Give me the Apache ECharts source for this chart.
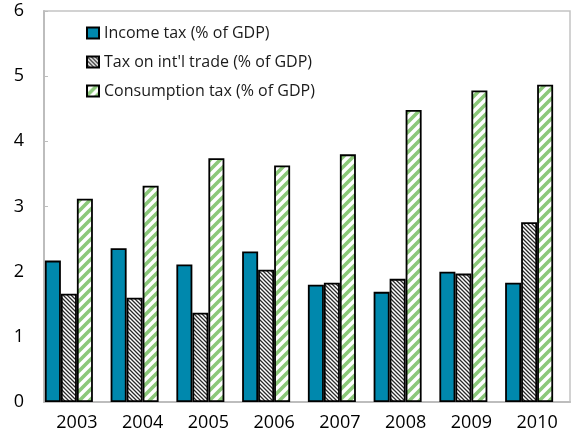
<!DOCTYPE html>
<html>
<head>
<meta charset="utf-8">
<script src="https://cdn.jsdelivr.net/npm/echarts@6/dist/echarts.min.js"></script>
<style>
html,body{margin:0;padding:0;background:#fff;}
#chart{width:571px;height:445px;}
</style>
</head>
<body>
<div id="chart"></div>
<script>
var categories = ['2003','2004','2005','2006','2007','2008','2009','2010'];
var incomeTax = [2.17, 2.36, 2.11, 2.31, 1.80, 1.69, 2.00, 1.83];
var tradeTax = [1.66, 1.60, 1.37, 2.03, 1.83, 1.89, 1.97, 2.76];
var consumptionTax = [3.12, 3.32, 3.74, 3.63, 3.80, 4.48, 4.78, 4.87];
var seriesNames = ['Income tax (% of GDP)', "Tax on int'l trade (% of GDP)", 'Consumption tax (% of GDP)'];
var yTicks = [0, 1, 2, 3, 4, 5, 6];

function makePattern(size, dir, lineColor, lineWidth) {
  var c = document.createElement('canvas');
  c.width = size; c.height = size;
  var ctx = c.getContext('2d');
  ctx.fillStyle = '#ffffff';
  ctx.fillRect(0, 0, size, size);
  ctx.strokeStyle = lineColor;
  ctx.lineWidth = lineWidth;
  ctx.beginPath();
  if (dir === 'back') {
    ctx.moveTo(-size, 0); ctx.lineTo(size, 2 * size);
    ctx.moveTo(0, 0); ctx.lineTo(size, size);
    ctx.moveTo(0, -size); ctx.lineTo(2 * size, size);
  } else {
    ctx.moveTo(0, size); ctx.lineTo(size, 0);
    ctx.moveTo(-size, size); ctx.lineTo(size, -size);
    ctx.moveTo(0, 2 * size); ctx.lineTo(2 * size, 0);
  }
  ctx.stroke();
  return c;
}

var hatch = makePattern(4, 'back', '#2a2a2a', 1.3);
var stripes = makePattern(10, 'fwd', '#8cc87a', 3.6);

var chart = echarts.init(document.getElementById('chart'), null, {renderer: 'canvas'});
var font = "'Open Sans', 'Noto Sans', sans-serif";

chart.setOption({
  animation: false,
  backgroundColor: '#ffffff',
  textStyle: {fontFamily: font},
  grid: {left: 44, right: 1, top: 11, bottom: 43, show: true, borderColor: '#c3c3c3', borderWidth: 1.5},
  legend: {
    data: seriesNames,
    orient: 'vertical',
    left: 86,
    top: 25,
    padding: 0,
    itemWidth: 12,
    itemHeight: 11,
    itemGap: 13,
    icon: 'rect',
    textStyle: {fontSize: 16, color: '#1a1a1a', fontFamily: font, lineHeight: 15}
  },
  xAxis: {
    type: 'category',
    data: categories,
    axisLine: {show: true, lineStyle: {color: '#bdbdbd', width: 2}},
    axisTick: {show: false},
    axisLabel: {fontSize: 18, color: '#000', margin: 12, fontFamily: font},
    splitLine: {show: false}
  },
  yAxis: {
    type: 'value',
    min: yTicks[0],
    max: yTicks[yTicks.length - 1],
    interval: 1,
    axisLine: {show: true, lineStyle: {color: '#bdbdbd', width: 2}},
    axisTick: {show: true, inside: true, length: 4, lineStyle: {color: '#bdbdbd', width: 1}},
    axisLabel: {fontSize: 18, color: '#000', margin: 20, fontFamily: font},
    splitLine: {show: false}
  },
  series: [
    {
      name: seriesNames[0], type: 'bar', data: incomeTax, barWidth: 16, barGap: '0%', barCategoryGap: '2%',
      itemStyle: {color: '#0088ad', borderColor: '#000', borderWidth: 1.8}
    },
    {
      name: seriesNames[1], type: 'bar', data: tradeTax, barWidth: 16, barGap: '0%',
      itemStyle: {color: {image: hatch, repeat: 'repeat'}, borderColor: '#000', borderWidth: 1.8}
    },
    {
      name: seriesNames[2], type: 'bar', data: consumptionTax, barWidth: 16, barGap: '0%',
      itemStyle: {color: {image: stripes, repeat: 'repeat'}, borderColor: '#000', borderWidth: 1.8}
    },
    {
      name: 'spacer', type: 'bar', data: [], barWidth: 16, barGap: '0%',
      itemStyle: {color: 'transparent'}
    }
  ]
});
</script>
</body>
</html>
